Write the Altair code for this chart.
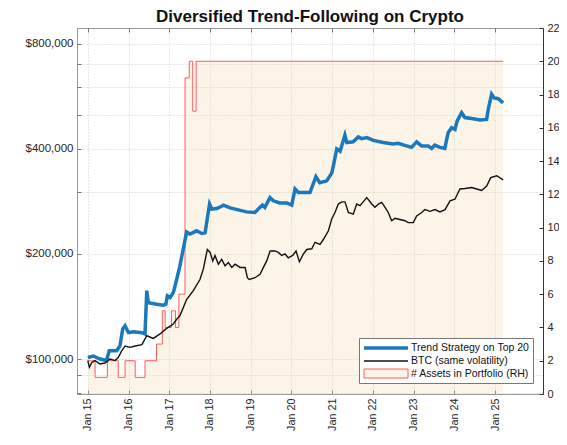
import altair as alt
import pandas as pd

FONT = "Liberation Sans"

T = "Trend Strategy on Top 20"
B = "BTC (same volatility)"
A = "# Assets in Portfolio (RH)"
SERIES = [T, B, A]

BLUE = "#1a78be"
BLACK = "#111111"
RED = "#ff5a5a"
BEIGE = "rgba(242,214,160,0.25)"
LINE_PATH = "M-1,0H7.8"
RECT_PATH = "M-1,-0.9H7.8V0.9H-1Z"

strat_dates = ["2015-01-01", "2015-02-20", "2015-04-20", "2015-06-18", "2015-07-12", "2015-09-17",
               "2015-10-16", "2015-11-10", "2015-12-01", "2016-01-01", "2016-02-14", "2016-04-30",
               "2016-05-28", "2016-06-13", "2016-06-27", "2016-09-10", "2016-11-08", "2016-12-01",
               "2016-12-15", "2017-01-08", "2017-02-06", "2017-03-08", "2017-04-06", "2017-05-05",
               "2017-06-05", "2017-07-05", "2017-09-03", "2017-10-19", "2017-11-18", "2017-12-28",
               "2018-01-17", "2018-03-02", "2018-04-15", "2018-05-01", "2018-07-01", "2018-11-25",
               "2019-02-08", "2019-03-25", "2019-04-17", "2019-05-08", "2019-06-23", "2019-07-23",
               "2019-09-20", "2019-11-20", "2020-01-04", "2020-02-03", "2020-03-03", "2020-05-02",
               "2020-06-16", "2020-08-08", "2020-09-12", "2020-11-13", "2020-12-28", "2021-01-11",
               "2021-02-11", "2021-03-13", "2021-04-25", "2021-05-12", "2021-07-08", "2021-08-23",
               "2021-09-23", "2021-11-07", "2022-01-05", "2022-04-04", "2022-07-01", "2022-08-16",
               "2022-10-30", "2022-12-14", "2023-01-29", "2023-03-14", "2023-05-12", "2023-06-12",
               "2023-07-10", "2023-08-25", "2023-10-08", "2023-11-07", "2023-12-08", "2024-01-07",
               "2024-01-27", "2024-03-07", "2024-04-05", "2024-06-19", "2024-08-18", "2024-10-17",
               "2024-11-01", "2024-12-01", "2024-12-24", "2025-01-30", "2025-03-14"]
strat_k = [101, 102, 100, 99, 105.6, 105.6,
           109, 122, 124.5, 119, 119.7, 119,
           118, 157, 145, 143.6, 142.7, 143.6,
           151.7, 150, 155, 169, 185, 206,
           231, 228, 233, 229, 230, 278,
           269, 270, 274, 276, 271, 264,
           263, 272, 276, 272, 290, 284,
           280, 280, 276, 307, 300, 300,
           300, 333, 320, 324, 341, 357,
           400, 394, 438, 417, 419, 433,
           428, 431, 423, 417, 413, 415,
           408, 404, 419, 408, 408, 401,
           410, 404, 401, 445, 460, 455,
           481, 508, 492, 488, 484, 486,
           519, 574, 560, 557, 542]

btc_dates = ["2015-01-01", "2015-01-15", "2015-02-06", "2015-03-07", "2015-04-20", "2015-06-04",
             "2015-07-19", "2015-09-02", "2015-10-01", "2015-11-01", "2015-12-01", "2016-01-15",
             "2016-03-01", "2016-04-30", "2016-06-13", "2016-08-10", "2016-10-10", "2016-12-08",
             "2017-02-06", "2017-03-08", "2017-04-06", "2017-06-05", "2017-08-04", "2017-10-03",
             "2017-11-02", "2017-12-08", "2018-01-02", "2018-01-26", "2018-02-15", "2018-03-17",
             "2018-04-16", "2018-05-16", "2018-06-15", "2018-07-15", "2018-08-14", "2018-09-28",
             "2018-11-12", "2018-12-02", "2018-12-20", "2019-02-09", "2019-03-26", "2019-04-25",
             "2019-05-25", "2019-06-24", "2019-08-07", "2019-09-06", "2019-10-06", "2019-11-05",
             "2019-12-04", "2020-01-13", "2020-02-12", "2020-03-13", "2020-04-18", "2020-05-18",
             "2020-07-02", "2020-07-31", "2020-09-14", "2020-10-14", "2020-11-28", "2020-12-28",
             "2021-01-26", "2021-02-25", "2021-03-27", "2021-04-26", "2021-05-26", "2021-07-09",
             "2021-08-09", "2021-09-08", "2021-11-07", "2021-12-22", "2022-01-20", "2022-02-19",
             "2022-03-21", "2022-04-20", "2022-05-19", "2022-06-18", "2022-07-18", "2022-09-01",
             "2022-10-16", "2022-11-14", "2022-12-29", "2023-01-29", "2023-03-15", "2023-04-13",
             "2023-05-28", "2023-07-12", "2023-08-26", "2023-10-10", "2023-11-24", "2024-01-07",
             "2024-02-21", "2024-04-06", "2024-06-05", "2024-07-20", "2024-09-03", "2024-10-18",
             "2024-11-23", "2025-01-16", "2025-03-15"]
btc_k = [99, 94.7, 97.8, 99, 96.8, 97.4,
         100, 99, 101, 105.6, 109, 108,
         109, 110, 116.6, 114.6, 118, 122.4,
         126, 130, 133, 148, 157, 169,
         181, 206, 202, 191, 198, 187,
         193, 185, 189, 183, 187, 183,
         183, 171, 169, 171, 175, 183,
         191, 204, 204, 202, 198, 200,
         195, 198, 204, 190, 200, 206,
         207, 216, 213, 220, 233, 252,
         263, 278, 282, 282, 263, 260,
         278, 275, 290, 278, 272, 278,
         281, 272, 263, 249, 253, 251,
         249, 246, 246, 257, 263, 268,
         265, 268, 264, 268, 284, 287,
         307, 308, 310, 307, 304, 313,
         331, 335, 326]

asset_dates = ["2015-01-01", "2015-03-07", "2015-06-25", "2015-10-01", "2015-12-01", "2016-03-01",
               "2016-05-28", "2016-09-08", "2016-10-30", "2016-11-25", "2017-01-20", "2017-02-25",
               "2017-03-28", "2017-05-22", "2017-06-29", "2017-07-30", "2017-08-29", "2025-03-14"]
asset_counts = [2, 1, 2, 1, 2, 1,
                2, 3, 5, 4, 5, 4,
                6, 19, 20, 17, 20, 20]

left_ticks = [100000, 200000, 400000, 800000]
left_grid = [80000, 90000, 100000, 200000, 300000, 400000, 500000, 600000, 700000, 800000]
right_ticks = list(range(0, 23, 2))
years = list(range(2015, 2026))

strat_df = pd.DataFrame({"date": strat_dates, "value": [v * 1000 for v in strat_k], "series": T})
btc_df = pd.DataFrame({"date": btc_dates, "value": [v * 1000 for v in btc_k], "series": B})
asset_df = pd.DataFrame({"date": asset_dates, "count": asset_counts, "series": A})

x_scale = alt.Scale(type="utc", domain=[alt.DateTime(year=2014, month=9, date=26, utc=True),
                                         alt.DateTime(year=2026, month=3, date=7, utc=True)])
year_ticks = [alt.DateTime(year=y, month=1, date=1, utc=True) for y in years]
left_scale = alt.Scale(type="log", domain=[79400, 888000])
right_scale = alt.Scale(domain=[0, 22], nice=False, zero=True)

GRID = "#cfcfcf"
TICKC = "#777777"

leg = alt.Legend(title=None, orient="none", legendX=282, legendY=310, direction="vertical",
                 labelFont=FONT, labelFontSize=10.5, labelColor="#111111", labelOffset=35,
                 symbolSize=100, symbolFillColor="transparent", symbolOpacity=1,
                 rowPadding=0, padding=3, strokeColor="#777777", fillColor="white",
                 labelLimit=300)

stroke_enc = alt.Stroke("series:N", scale=alt.Scale(domain=SERIES, range=[BLUE, BLACK, RED]), legend=leg)
sw_enc = alt.StrokeWidth("series:N", scale=alt.Scale(type="ordinal", domain=SERIES, range=[3.5, 1.4, 1.0]),
                         legend=leg)
fill_enc = alt.Fill("series:N", scale=alt.Scale(domain=SERIES, range=["transparent", "transparent", BEIGE]),
                    legend=leg)
shape_enc = alt.Shape("series:N", scale=alt.Scale(domain=SERIES, range=[LINE_PATH, LINE_PATH, RECT_PATH]),
                      legend=leg)

blue = alt.Chart(strat_df).mark_line().encode(
    x=alt.X("date:T", scale=x_scale, title=None,
            axis=alt.Axis(orient="bottom", values=year_ticks, format="%b %y", labelAngle=-90,
                          grid=False, ticks=False, domainColor="#9a9a9a", labelPadding=4,
                          labelFontSize=10.8)),
    y=alt.Y("value:Q", scale=left_scale, title=None,
            axis=alt.Axis(orient="left", values=left_ticks, format="$,.0f", grid=False, ticks=False,
                          domainColor="#9a9a9a", labelPadding=4, labelFontSize=11.5)),
    stroke=stroke_enc, strokeWidth=sw_enc)

black = alt.Chart(btc_df).mark_line().encode(
    x=alt.X("date:T", scale=x_scale, title=None,
            axis=alt.Axis(orient="top", values=year_ticks, labels=False, domain=False, grid=True,
                          gridColor=GRID, gridDash=[1, 2], ticks=True, tickSize=4, offset=-4,
                          tickColor=TICKC)),
    y=alt.Y("value:Q", scale=left_scale, title=None,
            axis=alt.Axis(orient="left", values=left_grid, labels=False, domain=False, grid=True,
                          gridColor=GRID, gridDash=[1, 2], ticks=True, tickSize=4, offset=-4,
                          tickColor=TICKC)),
    stroke=stroke_enc, strokeWidth=sw_enc)

legend_src = alt.Chart(strat_df).transform_filter("false").mark_point(opacity=1).encode(
    x=alt.X("date:T", scale=x_scale, axis=None),
    y=alt.Y("value:Q", scale=left_scale, axis=None),
    shape=shape_enc, stroke=stroke_enc, fill=fill_enc)

left = alt.layer(blue, black, legend_src).resolve_axis(x="independent", y="independent")

area = alt.Chart(asset_df).mark_area(interpolate="step-after").encode(
    x=alt.X("date:T", scale=x_scale, axis=None),
    y=alt.Y("count:Q", scale=right_scale, title=None,
            axis=alt.Axis(orient="right", values=right_ticks, grid=False, ticks=False,
                          domainColor="#333333", labelPadding=4)),
    fill=fill_enc)

step = alt.Chart(asset_df).mark_line(interpolate="step-after").encode(
    x=alt.X("date:T", scale=x_scale, title=None,
            axis=alt.Axis(orient="bottom", values=year_ticks, labels=False, domain=False, grid=False,
                          ticks=True, tickSize=4, offset=-4, tickColor=TICKC)),
    y=alt.Y("count:Q", scale=right_scale, title=None,
            axis=alt.Axis(orient="right", values=right_ticks, labels=False, domain=False, grid=False,
                          ticks=True, tickSize=4, offset=-4, tickColor="#333333")),
    stroke=stroke_enc, strokeWidth=sw_enc)

right = alt.layer(area, step).resolve_axis(x="independent", y="independent")

chart = alt.layer(right, left).resolve_scale(y="independent").resolve_axis(
    x="independent", y="independent"
).properties(
    width=466, height=366,
    title=alt.TitleParams(text="Diversified Trend-Following on Crypto", font=FONT, fontSize=17,
                          fontWeight="bold", color="#111111", anchor="middle", offset=5, dy=9),
    autosize=alt.AutoSizeParams(type="none"),
    padding={"left": 69, "top": 20, "right": 16, "bottom": 42},
).configure_view(stroke="#9a9a9a").configure_axis(
    labelFont=FONT, labelFontSize=11, labelColor="#262626"
)

chart.save("out.html", embed_options={"renderer": "svg", "actions": False})
